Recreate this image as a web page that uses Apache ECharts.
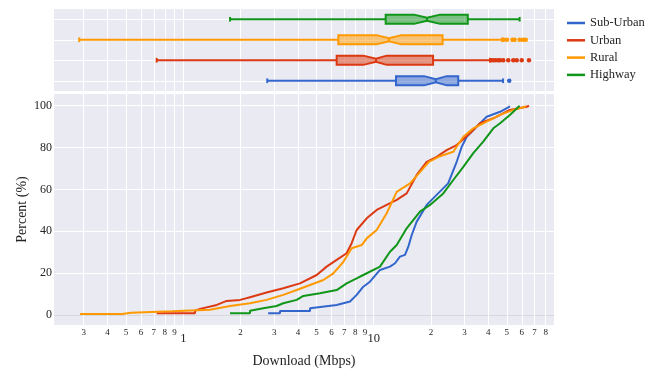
<!DOCTYPE html>
<html>
<head>
<meta charset="utf-8">
<script src="https://cdn.jsdelivr.net/npm/echarts@6/dist/echarts.min.js"></script>
<style>
  html, body { margin: 0; padding: 0; background: #fff; }
  #chart { width: 655px; height: 369px; }
</style>
</head>
<body>
<div id="chart"></div>
<script>
// Groups, in legend order
const groups = ['Sub-Urban', 'Urban', 'Rural', 'Highway'];
const colors = ['#3366CC', '#DC3912', '#FF9900', '#109618'];

// Box statistics per group (Mbps)
const boxMin    = [2.76, 0.725, 0.284, 1.76];
const boxQ1     = [13.1, 6.39, 6.52, 11.56];
const notchLow  = [18.4, 8.83, 10.35, 16.3];
const boxMedian = [21.2, 10.28, 12.03, 19.05];
const notchHigh = [24.2, 11.69, 13.97, 22.3];
const boxQ3     = [27.8, 20.5, 23.0, 31.2];
const boxMax    = [47.8, 40.8, 47.3, 58.4];

// Outlying measurements per group (Mbps)
const outSubUrban = [51.5];
const outUrban = [41.3, 42.5, 43.7, 45.1, 46.1, 47.9, 50.9, 54.1, 56.4, 59.9, 65.4];
const outRural = [48.0, 50.1, 53.5, 55.0, 58.4, 60.8, 62.9];
const outHighway = [];

// Cumulative distributions: [download Mbps, percent]
const cdfSubUrban = [[2.79,0.8],[3.22,0.8],[3.22,1.9],[4.63,1.9],[4.63,3.2],[6.39,4.8],[7.51,6.4],[8.14,9.6],[8.82,13.5],[9.56,15.9],[10.79,21.5],[12.18,23.1],[12.94,24.7],[13.74,27.9],[14.6,28.7],[15.2,32.6],[15.84,38.2],[16.82,44.6],[18.98,52.6],[24.6,62.9],[27.28,73.2],[29.0,80.4],[30.8,85.2],[34.75,90.0],[39.2,94.7],[46.1,97.1],[51.5,99.5],[51.5,100]];
const cdfUrban = [[0.725,0.8],[1.152,0.8],[1.152,2.0],[1.224,2.9],[1.50,4.8],[1.69,6.7],[1.99,7.2],[2.24,8.5],[2.74,10.7],[3.35,12.8],[4.10,15.1],[5.02,19.1],[5.66,23.1],[6.39,26.3],[7.21,29.5],[7.66,34.3],[8.14,40.6],[9.19,46.2],[10.37,50.2],[11.70,52.6],[13.21,55.0],[14.9,58.1],[16.82,66.9],[18.98,73.2],[21.42,75.6],[24.17,78.8],[27.28,81.2],[32.06,86.8],[36.2,91.6],[42.5,94.0],[51.9,98.0],[63.6,99.5],[65.4,100]];
const cdfRural = [[0.287,0.5],[0.478,0.5],[0.478,1.1],[0.530,1.1],[0.530,1.8],[0.875,1.8],[0.875,2.5],[1.38,2.5],[1.41,3.2],[1.76,4.3],[2.24,5.6],[2.74,7.2],[3.35,9.6],[3.94,11.9],[4.63,14.3],[5.44,16.7],[6.14,19.9],[6.92,25.3],[7.66,31.9],[8.65,33.4],[9.19,36.6],[10.37,40.6],[11.70,48.6],[13.21,58.8],[15.52,62.9],[19.5,73.2],[21.9,75.6],[26.18,78.0],[29.56,85.2],[33.35,89.2],[39.2,92.4],[46.1,95.6],[54.1,98.0],[62.3,99.5],[62.9,100]];
const cdfHighway = [[1.76,0.8],[2.24,0.8],[2.24,2.0],[2.63,3.2],[3.09,4.3],[3.35,5.6],[3.94,7.2],[4.27,9.1],[5.22,10.4],[6.39,11.9],[7.21,15.1],[8.14,17.5],[8.82,19.1],[10.79,23.1],[12.18,30.2],[13.21,33.4],[14.9,41.4],[17.5,49.4],[19.76,52.6],[23.2,58.1],[26.18,64.5],[29.56,70.8],[33.35,77.3],[37.6,82.8],[42.5,89.2],[46.1,91.6],[51.9,95.6],[56.4,98.7],[58.4,100]];

// Axis ranges and ticks
const xMin = 0.2094, xMax = 88.5;
const xTicks = [0.3,0.4,0.5,0.6,0.7,0.8,0.9,1,2,3,4,5,6,7,8,9,10,20,30,40,50,60,70,80];
const yMin = -4.8, yMax = 105.6;
const yTicks = [0, 20, 40, 60, 80, 100];

const outliers = [outSubUrban, outUrban, outRural, outHighway];
const cdfs = [cdfSubUrban, cdfUrban, cdfRural, cdfHighway];

const FONT = "'Liberation Serif', 'Times New Roman', serif";
const TEXT = '#242424';
const BG = '#EAEAF2';

const logTicks = xTicks.map(v => Math.log10(v));
const lMin = Math.log10(xMin), lMax = Math.log10(xMax);

function hexA(hex, a) {
  const n = parseInt(hex.slice(1), 16);
  return 'rgba(' + (n >> 16) + ',' + ((n >> 8) & 255) + ',' + (n & 255) + ',' + a + ')';
}

function tickLabel(lv) {
  const v = Math.pow(10, lv);
  const r = Math.round(v * 1000) / 1000;
  if (Math.abs(r - 1) < 1e-6) return '{maj|1}';
  if (Math.abs(r - 10) < 1e-6) return '{maj|10}';
  const e = Math.floor(Math.log10(r) + 1e-9);
  return '{mnr|' + Math.round(r / Math.pow(10, e)) + '}';
}

// Notched box with whiskers and caps
function renderBox(params, api) {
  const cat = api.value(0);
  const X = v => api.coord([v, cat])[0];
  const yc = api.coord([api.value(4), cat])[1];
  const band = api.size([0, 1], [1, cat])[1];
  const h = band * 0.225, hn = h * 0.32, hc = h * 0.5;
  const xs = [1, 2, 3, 4, 5, 6, 7].map(i => X(api.value(i)));
  const [x0, x1, xnl, xm, xnh, x3, x4] = xs;
  const c = colors[cat];
  const ls = { stroke: c, lineWidth: 2, fill: null };
  return {
    type: 'group',
    children: [
      { type: 'line', shape: { x1: x0, y1: yc, x2: x1, y2: yc }, style: ls },
      { type: 'line', shape: { x1: x3, y1: yc, x2: x4, y2: yc }, style: ls },
      { type: 'line', shape: { x1: x0, y1: yc - hc, x2: x0, y2: yc + hc }, style: ls },
      { type: 'line', shape: { x1: x4, y1: yc - hc, x2: x4, y2: yc + hc }, style: ls },
      {
        type: 'polygon',
        shape: { points: [[x1, yc - h], [xnl, yc - h], [xm, yc - hn], [xnh, yc - h], [x3, yc - h],
                          [x3, yc + h], [xnh, yc + h], [xm, yc + hn], [xnl, yc + h], [x1, yc + h]] },
        style: { fill: hexA(c, 0.5), stroke: c, lineWidth: 2, lineJoin: 'miter' }
      },
      { type: 'line', shape: { x1: xm, y1: yc - hn, x2: xm, y2: yc + hn }, style: ls }
    ]
  };
}

const series = [];
groups.forEach((g, i) => {
  series.push({
    name: g, type: 'line', xAxisIndex: 2, yAxisIndex: 2,
    data: cdfs[i], showSymbol: false, symbol: 'none',
    lineStyle: { width: 2, color: colors[i] }, itemStyle: { color: colors[i] },
    z: 3 + i, animation: false
  });
});
groups.forEach((g, i) => {
  series.push({
    name: g, type: 'custom', xAxisIndex: 0, yAxisIndex: 0,
    renderItem: renderBox,
    encode: { x: [1, 2, 3, 4, 5, 6, 7], y: 0 },
    data: [[i, boxMin[i], boxQ1[i], notchLow[i], boxMedian[i], notchHigh[i], boxQ3[i], boxMax[i]]],
    itemStyle: { color: colors[i] }, z: 3, animation: false
  });
  series.push({
    name: g, type: 'scatter', xAxisIndex: 0, yAxisIndex: 0,
    data: outliers[i].map(v => [v, i]),
    symbolSize: 4.5, itemStyle: { color: colors[i], opacity: 1 }, z: 4, animation: false
  });
});

const gridLine = { show: true, lineStyle: { color: '#ffffff', width: 1 } };

const option = {
  backgroundColor: '#ffffff',
  animation: false,
  textStyle: { fontFamily: FONT },
  legend: {
    data: groups.map((g, i) => ({ name: g, itemStyle: { color: colors[i] } })),
    orient: 'vertical', left: 562, top: 11,
    icon: 'rect', itemWidth: 18, itemHeight: 2.5, itemGap: 3.3,
    textStyle: { fontFamily: FONT, fontSize: 12.5, color: TEXT, lineHeight: 14 }
  },
  grid: [
    { left: 54, top: 9, width: 500, height: 82, show: true, backgroundColor: BG, borderWidth: 0,
      containLabel: false, outerBoundsMode: 'none' },
    { left: 54, top: 94, width: 500, height: 231, show: true, backgroundColor: BG, borderWidth: 0,
      containLabel: false, outerBoundsMode: 'none' }
  ],
  xAxis: [
    { gridIndex: 0, type: 'log', min: xMin, max: xMax, show: false, splitLine: { show: false } },
    { gridIndex: 0, type: 'value', min: lMin, max: lMax,
      axisLine: { show: false }, axisTick: { show: false, customValues: logTicks },
      axisLabel: { show: false, customValues: logTicks }, splitLine: gridLine },
    { gridIndex: 1, type: 'log', min: xMin, max: xMax, show: false, splitLine: { show: false } },
    { gridIndex: 1, type: 'value', min: lMin, max: lMax, position: 'bottom',
      axisLine: { show: false }, axisTick: { show: false, customValues: logTicks },
      axisLabel: {
        customValues: logTicks, margin: 3, formatter: tickLabel, color: TEXT,
        rich: {
          mnr: { fontFamily: FONT, fontSize: 9, lineHeight: 10, color: TEXT },
          maj: { fontFamily: FONT, fontSize: 12.5, lineHeight: 13, color: TEXT, padding: [9, 0, 0, 0] }
        }
      },
      splitLine: gridLine,
      name: 'Download (Mbps)', nameLocation: 'middle', nameGap: 29, nameMoveOverlap: false,
      nameTextStyle: { fontFamily: FONT, fontSize: 14, color: TEXT }
    }
  ],
  yAxis: [
    { gridIndex: 0, type: 'category', data: groups, show: false, boundaryGap: true },
    { gridIndex: 0, type: 'value', min: -0.5, max: 3.5, position: 'left',
      axisLine: { show: false }, axisTick: { show: false, customValues: [0, 1, 2, 3] },
      axisLabel: { show: false, customValues: [0, 1, 2, 3] }, splitLine: gridLine },
    { gridIndex: 1, type: 'value', min: yMin, max: yMax,
      axisLine: { show: false }, axisTick: { show: false, customValues: yTicks },
      axisLabel: { customValues: yTicks, margin: 2, fontFamily: FONT, fontSize: 12, color: TEXT },
      splitLine: { show: true, lineStyle: { color: ['#d6d6dc', '#fff', '#fff', '#fff', '#fff', '#fff'], width: 1 } },
      name: 'Percent (%)', nameLocation: 'middle', nameGap: 25, nameRotate: 90, nameMoveOverlap: false,
      nameTextStyle: { fontFamily: FONT, fontSize: 14, color: TEXT }
    }
  ],
  series: series
};

const chart = echarts.init(document.getElementById('chart'), null, { renderer: 'canvas' });
chart.setOption(option);
</script>
</body>
</html>
